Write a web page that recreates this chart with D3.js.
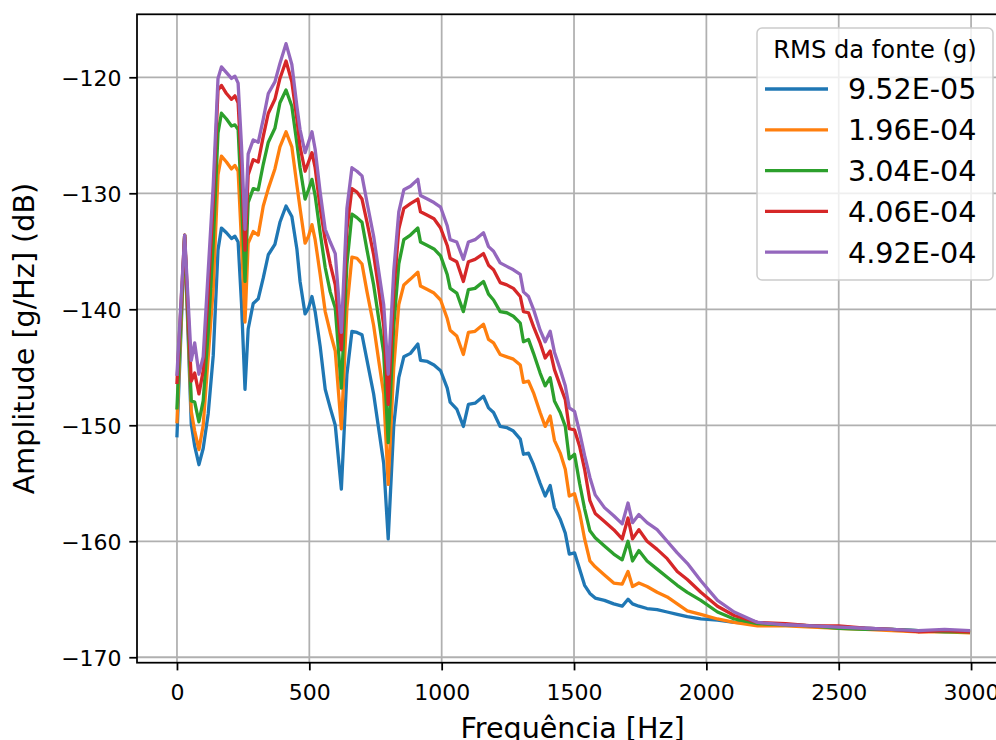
<!DOCTYPE html>
<html>
<head>
<meta charset="utf-8">
<script src="https://cdn.jsdelivr.net/npm/d3@7"></script>
<style>
  body { margin: 0; background: #fff; }
  svg { display: block; font-family: "DejaVu Sans", sans-serif; }
</style>
</head>
<body>
<script>
// frequency bins (Hz), shared by all series
var freqs = [0, 29, 54, 67, 83, 99, 118, 137, 155, 168,
  187, 206, 219, 231, 244, 257, 269, 288, 307, 326,
  345, 370, 389, 412, 434, 453, 465, 484, 497, 510,
  522, 541, 560, 579, 598, 621, 642, 661, 680, 699,
  718, 743, 762, 781, 798, 819, 838, 857, 882, 910,
  920, 946, 971, 996, 1021, 1032, 1057, 1082, 1101, 1126,
  1158, 1177, 1196, 1221, 1246, 1271, 1297, 1309, 1328, 1347,
  1372, 1391, 1410, 1426, 1448, 1467, 1482, 1502, 1521, 1540,
  1560, 1580, 1615, 1650, 1682, 1704, 1721, 1745, 1776, 1814,
  1852, 1890, 1928, 1979, 2042, 2105, 2193, 2300, 2400, 2500,
  2600, 2700, 2800, 2900, 2990];

var labels = ["9.52E-05", "1.96E-04", "3.04E-04", "4.06E-04", "4.92E-04"];
var colors = ["#1f77b4", "#ff7f0e", "#2ca02c", "#d62728", "#9467bd"];

var amp1 = [-150.9,-133.8,-149.9,-151.8,-153.4,-152.0,-149.0,-144.0,-134.9,-133.0,
  -133.4,-133.9,-133.7,-134.2,-139.6,-146.9,-141.7,-139.5,-139.1,-137.3,
  -135.3,-134.4,-132.5,-131.1,-132.0,-134.8,-137.6,-140.4,-139.9,-138.9,
  -140.2,-143.2,-146.9,-148.5,-150.0,-155.5,-145.6,-141.9,-142.0,-142.2,
  -144.4,-147.3,-150.3,-153.3,-159.8,-150.0,-145.9,-144.1,-143.8,-143.0,
  -144.4,-144.5,-144.8,-145.3,-146.8,-148.0,-148.6,-150.1,-148.2,-148.1,
  -147.5,-148.5,-148.9,-150.1,-150.2,-150.5,-151.2,-152.5,-152.4,-153.4,
  -155.0,-156.1,-155.2,-157.1,-158.1,-159.3,-161.1,-161.0,-162.4,-163.8,
  -164.5,-164.9,-165.1,-165.4,-165.6,-165.0,-165.4,-165.6,-165.8,-165.9,
  -166.1,-166.3,-166.5,-166.7,-166.8,-167.0,-167.1,-167.2,-167.3,-167.4,
  -167.5,-167.6,-167.7,-167.7,-167.7];

var amp2 = [-149.7,-133.6,-148.8,-150.5,-152.1,-150.0,-144.1,-138.2,-128.4,-126.8,
  -127.3,-127.9,-127.6,-128.1,-134.3,-141.1,-134.3,-133.3,-133.6,-131.1,
  -129.6,-127.9,-126.0,-124.7,-126.0,-129.3,-131.3,-134.3,-133.7,-132.7,
  -134.0,-137.0,-140.2,-142.0,-143.6,-150.3,-139.9,-135.5,-135.6,-136.1,
  -138.5,-141.4,-144.4,-147.3,-155.1,-145.0,-139.6,-137.9,-137.4,-136.8,
  -138.0,-138.3,-138.6,-139.2,-140.8,-141.8,-142.3,-143.9,-142.0,-141.9,
  -141.3,-142.6,-142.9,-143.9,-144.1,-144.3,-144.8,-146.3,-146.2,-147.2,
  -148.9,-150.1,-149.2,-151.3,-152.4,-153.8,-156.1,-155.9,-157.5,-159.8,
  -161.7,-162.2,-162.9,-163.6,-163.7,-162.6,-163.9,-163.6,-163.9,-164.4,
  -164.8,-165.4,-166.0,-166.3,-166.7,-167.0,-167.3,-167.3,-167.4,-167.5,
  -167.6,-167.7,-167.8,-167.8,-167.9];

var amp3 = [-148.5,-133.6,-147.9,-148.0,-149.7,-147.9,-142.0,-134.3,-124.8,-123.1,
  -123.6,-124.2,-124.1,-124.5,-130.8,-137.6,-130.8,-129.6,-129.7,-127.5,
  -125.6,-124.4,-122.2,-121.1,-122.5,-125.7,-127.8,-130.5,-129.7,-128.8,
  -130.2,-133.4,-136.4,-138.5,-139.9,-146.8,-136.1,-131.8,-132.1,-132.5,
  -134.9,-137.9,-140.8,-143.8,-151.5,-141.4,-136.1,-134.0,-133.6,-133.0,
  -134.2,-134.5,-134.8,-135.4,-137.0,-138.2,-138.6,-140.2,-138.3,-138.2,
  -137.6,-138.7,-139.2,-140.2,-140.3,-140.6,-141.2,-142.8,-142.6,-143.8,
  -145.5,-146.6,-145.9,-147.9,-148.9,-150.1,-152.9,-152.5,-155.0,-157.2,
  -159.1,-159.7,-160.4,-161.1,-161.6,-160.0,-161.7,-160.8,-161.7,-162.4,
  -163.1,-163.8,-164.4,-165.1,-166.1,-166.7,-167.1,-167.2,-167.3,-167.5,
  -167.6,-167.6,-167.7,-167.8,-167.8];

var amp4 = [-146.3,-133.6,-146.2,-145.5,-147.3,-145.3,-138.5,-130.8,-121.1,-120.7,
  -121.4,-121.9,-121.6,-122.2,-127.8,-134.9,-128.4,-127.1,-127.3,-125.1,
  -123.1,-121.9,-120.1,-118.6,-120.4,-123.6,-126.0,-128.1,-127.3,-126.5,
  -127.8,-131.3,-134.0,-136.1,-137.9,-143.5,-133.1,-129.6,-129.9,-130.5,
  -132.5,-135.3,-138.2,-141.4,-148.2,-138.5,-133.1,-131.3,-130.9,-130.5,
  -131.6,-131.9,-132.2,-133.0,-134.5,-135.6,-135.9,-137.6,-135.9,-135.7,
  -135.2,-136.2,-136.6,-137.7,-137.9,-138.2,-138.9,-140.2,-140.3,-141.5,
  -142.9,-144.2,-143.6,-145.2,-146.6,-147.8,-150.3,-150.4,-151.8,-153.8,
  -156.5,-157.6,-158.3,-159.0,-159.8,-158.0,-159.8,-159.0,-160.0,-160.7,
  -161.5,-162.6,-163.3,-164.4,-165.6,-166.4,-167.0,-167.1,-167.3,-167.3,
  -167.5,-167.6,-167.8,-167.7,-167.8];

var amp5 = [-145.6,-133.6,-144.4,-142.9,-145.6,-144.1,-136.7,-129.3,-120.1,-119.1,
  -119.6,-120.1,-119.9,-120.5,-126.0,-133.1,-126.6,-125.4,-125.6,-123.6,
  -121.4,-120.4,-118.8,-117.1,-118.9,-122.5,-124.5,-126.5,-125.6,-124.7,
  -126.2,-129.9,-133.1,-134.2,-135.2,-142.0,-131.3,-127.8,-128.1,-128.5,
  -130.8,-133.7,-136.7,-139.6,-145.6,-136.7,-131.6,-129.7,-129.4,-128.8,
  -130.2,-130.5,-130.8,-131.2,-132.8,-134.0,-134.2,-135.7,-134.2,-134.0,
  -133.4,-134.6,-135.0,-136.0,-136.3,-136.6,-137.0,-138.5,-138.9,-140.0,
  -141.8,-142.8,-141.9,-143.7,-145.2,-146.6,-148.5,-148.8,-150.6,-152.6,
  -154.5,-156.0,-157.1,-157.8,-158.5,-156.7,-158.4,-157.7,-158.4,-159.0,
  -160.0,-161.0,-161.9,-163.4,-165.1,-166.1,-167.0,-167.2,-167.3,-167.4,
  -167.5,-167.6,-167.7,-167.6,-167.7];

var xTicks = [0, 500, 1000, 1500, 2000, 2500, 3000];
var yTicks = [-170, -160, -150, -140, -130, -120];

var series = [amp1, amp2, amp3, amp4, amp5];

var width = 996, height = 740;
var plotLeft = 137, plotRight = 1008, plotTop = 14.3, plotBottom = 662.7;

var svg = d3.select("body").append("svg")
    .attr("width", width)
    .attr("height", height);

var x = d3.scaleLinear().domain([-151, 3139.5]).range([plotLeft, plotRight]);
var y = d3.scaleLinear().domain([-170.47, -114.57]).range([plotBottom, plotTop]);

// grid
svg.append("g").selectAll("line")
  .data(xTicks)
  .enter().append("line")
    .attr("x1", function(d) { return x(d); })
    .attr("x2", function(d) { return x(d); })
    .attr("y1", plotTop).attr("y2", plotBottom)
    .attr("stroke", "#b0b0b0").attr("stroke-width", 1.76);

svg.append("g").selectAll("line")
  .data(yTicks)
  .enter().append("line")
    .attr("x1", plotLeft).attr("x2", plotRight)
    .attr("y1", function(d) { return y(d); })
    .attr("y2", function(d) { return y(d); })
    .attr("stroke", "#b0b0b0").attr("stroke-width", 1.76);

var line = d3.line()
    .x(function(d, i) { return x(freqs[i]); })
    .y(function(d) { return y(d); });

svg.append("defs").append("clipPath").attr("id", "plot")
  .append("rect")
    .attr("x", plotLeft).attr("y", plotTop)
    .attr("width", plotRight - plotLeft).attr("height", plotBottom - plotTop);

svg.append("g").attr("clip-path", "url(#plot)")
  .selectAll("path")
  .data(series)
  .enter().append("path")
    .attr("d", line)
    .attr("fill", "none")
    .attr("stroke", function(d, i) { return colors[i]; })
    .attr("stroke-width", 3.3)
    .attr("stroke-linejoin", "round")
    .attr("stroke-linecap", "square");

// axes
var fmt = d3.format("d");

var xAxis = svg.append("g")
    .attr("transform", "translate(0," + plotBottom + ")")
    .call(d3.axisBottom(x).tickValues(xTicks).tickFormat(fmt)
      .tickSize(7.7).tickPadding(7.7).tickSizeOuter(0));
xAxis.select(".domain").remove();
xAxis.selectAll(".tick line").attr("stroke", "#000").attr("stroke-width", 1.76);
xAxis.selectAll(".tick text").attr("dy", "1em")
    .attr("font-size", 22).attr("font-family", "DejaVu Sans").attr("fill", "#000");

var yAxis = svg.append("g")
    .attr("transform", "translate(" + plotLeft + ",0)")
    .call(d3.axisLeft(y).tickValues(yTicks).tickFormat(function(d) { return "\u2212" + Math.abs(d); })
      .tickSize(7.7).tickPadding(7.7).tickSizeOuter(0));
yAxis.select(".domain").remove();
yAxis.selectAll(".tick line").attr("stroke", "#000").attr("stroke-width", 1.76);
yAxis.selectAll(".tick text").attr("dy", "0.36em")
    .attr("font-size", 22).attr("font-family", "DejaVu Sans").attr("fill", "#000");

// spines
svg.append("rect")
    .attr("x", plotLeft).attr("y", plotTop)
    .attr("width", plotRight - plotLeft).attr("height", plotBottom - plotTop)
    .attr("fill", "none").attr("stroke", "#000").attr("stroke-width", 1.76);

svg.append("text")
    .attr("x", 572.5).attr("y", 737.5)
    .attr("text-anchor", "middle")
    .attr("font-size", 28.6)
    .text("Frequência [Hz]");

svg.append("text")
    .attr("transform", "translate(34," + ((plotTop + plotBottom) / 2) + ") rotate(-90)")
    .attr("text-anchor", "middle")
    .attr("font-size", 28.6)
    .text("Amplitude [g/Hz] (dB)");

// legend
var legend = svg.append("g");
legend.append("rect")
    .attr("x", 757).attr("y", 28)
    .attr("width", 236).attr("height", 252)
    .attr("rx", 5).attr("ry", 5)
    .attr("fill", "#fff").attr("fill-opacity", 0.8)
    .attr("stroke", "#cccccc").attr("stroke-width", 1.5);

legend.append("text")
    .attr("x", 875).attr("y", 58)
    .attr("text-anchor", "middle")
    .attr("font-size", 24.2)
    .attr("fill", "#000")
    .text("RMS da fonte (g)");

var items = legend.selectAll(".item")
  .data(labels)
  .enter().append("g")
    .attr("class", "item")
    .attr("transform", function(d, i) { return "translate(0," + (89 + i * 40.8) + ")"; });

items.append("line")
    .attr("x1", 765).attr("x2", 828)
    .attr("stroke", function(d, i) { return colors[i]; })
    .attr("stroke-width", 3.3);

items.append("text")
    .attr("x", 848).attr("y", 10.4)
    .attr("font-size", 28.6)
    .attr("fill", "#000")
    .text(function(d) { return d; });
</script>
</body>
</html>
